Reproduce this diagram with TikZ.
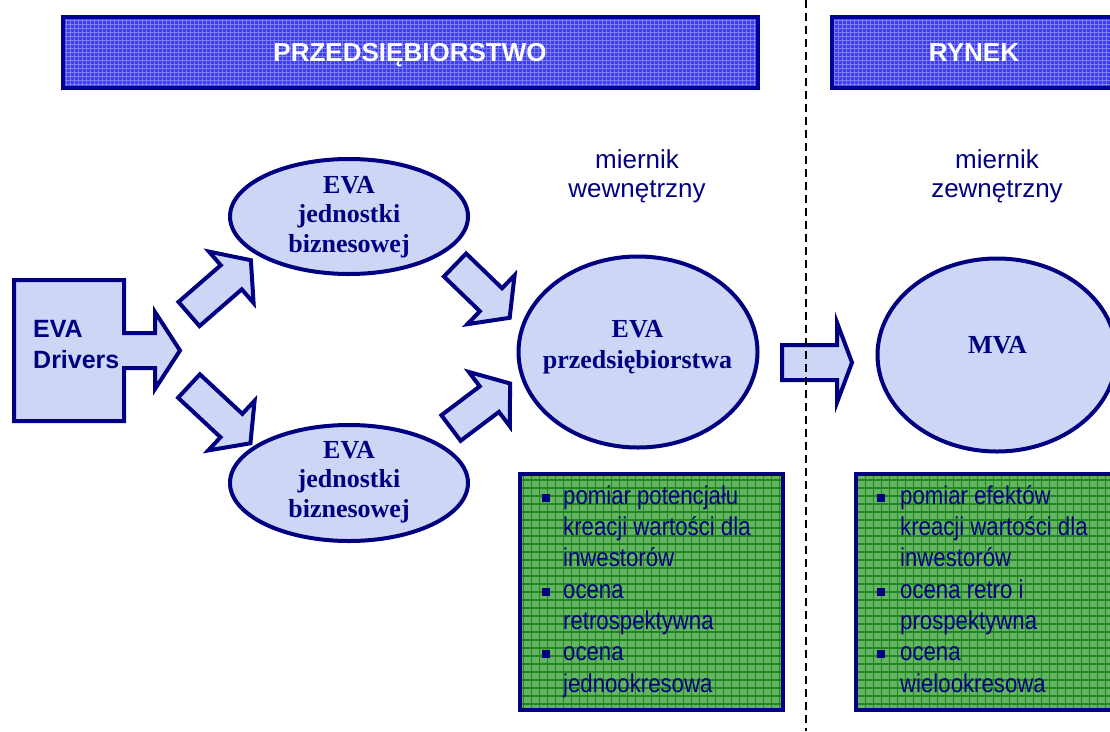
\documentclass[tikz,border=0pt]{standalone}
\usepackage{fontspec}
\setmainfont{Liberation Serif}
\newfontfamily\sansf{Liberation Sans}
\newfontfamily\sansnarrow[FakeStretch=0.86]{Liberation Sans}
\usetikzlibrary{shapes.geometric}

\definecolor{navy}{RGB}{0,0,128}
\definecolor{barblue}{RGB}{60,60,250}
\definecolor{bargrid}{RGB}{125,125,255}
\definecolor{barrim}{RGB}{0,0,150}
\definecolor{paleblue}{RGB}{206,214,245}
\definecolor{boxgreen}{RGB}{100,180,100}
\definecolor{gridgreen}{RGB}{30,135,30}

\newcommand\sqbul{\rule[2.5pt]{8pt}{8pt}}

\tikzset{
  outline/.style={draw=navy, line width=4pt, fill=paleblue, line join=miter},
  bubble/.style={ellipse, outline, inner sep=0pt},
  bubbletext/.style={text=navy, font=\bfseries\fontsize{26}{29.5}\selectfont,
    align=center, inner sep=0pt, anchor=base},
  titlebar/.style={draw=barrim, line width=4pt, fill=barblue, inner sep=0pt,
    anchor=north west,
    path picture={\draw[bargrid, line width=0.7pt, step=4pt]
      (path picture bounding box.south west) grid (path picture bounding box.north east);}},
  titletext/.style={text=white, font=\sansf\bfseries\fontsize{26}{30}\selectfont,
    inner sep=0pt, anchor=base},
  greenbox/.style={draw=navy, line width=4pt, fill=boxgreen, inner sep=0pt,
    anchor=north west,
    path picture={\draw[gridgreen, line width=1.4pt, step=8pt]
      (path picture bounding box.south west) grid (path picture bounding box.north east);}},
  listtext/.style={text=navy, font=\sansnarrow\fontsize{25.8}{31.3}\selectfont,
    inner sep=0pt, anchor=north west},
  measuretext/.style={text=navy, font=\sansf\fontsize{26}{29}\selectfont,
    align=center, inner sep=0pt, anchor=base},
  divider/.style={black, line width=2pt, dash pattern=on 8pt off 5pt},
  pics/blockarrow/.style n args={4}{code={
    \path[outline] (0,-#2) -- ({#1-#4},-#2) -- ({#1-#4},-#3) -- (#1,0)
      -- ({#1-#4},#3) -- ({#1-#4},#2) -- (0,#2) -- cycle;}}
}

\begin{document}
\begin{tikzpicture}[x=1pt,y=-1pt]
\useasboundingbox (0,0) rectangle (1110,731);
\clip (0,0) rectangle (1110,731);

% section headers
\node[titlebar, minimum width=695pt, minimum height=71pt] (firmbar) at (61,15) {};
\node[titlebar, minimum width=300pt, minimum height=71pt] (marketbar) at (830,15) {};
\node[titletext] (firmtitle) at (410,61) {PRZEDSIĘBIORSTWO};
\node[titletext] (markettitle) at (974,61) {RYNEK};

% measure captions (anchored on the last baseline)
\node[measuretext] (internal) at (637,197) {miernik\\wewnętrzny};
\node[measuretext] (external) at (997,197) {miernik\\zewnętrzny};

% EVA drivers block with its outgoing arrow
\path[outline] (14,280) -- (124,280) -- (124,333) -- (155,333) -- (155,312)
  -- (180,350.5) -- (155,389) -- (155,368) -- (124,368) -- (124,421)
  -- (14,421) -- cycle;
\node[text=navy, font=\sansf\bfseries\fontsize{25}{31}\selectfont, align=left,
  inner sep=0pt, anchor=base west] (drivers) at (33,368) {EVA\\Drivers};

% business-unit bubbles
\node[bubble, minimum width=238pt, minimum height=115pt] (unitA) at (349,216.5) {};
\node[bubble, minimum width=238pt, minimum height=116pt] (unitB) at (349,483) {};
\node[bubbletext] (unitAtext) at (349,252) {EVA\\jednostki\\biznesowej};
\node[bubbletext] (unitBtext) at (349,517) {EVA\\jednostki\\biznesowej};

% company and market bubbles
\node[bubble, minimum width=239pt, minimum height=191pt] (company) at (638,352) {};
\node[bubble, minimum width=239pt, minimum height=193pt] (market) at (997,355) {};
\node[bubbletext, font=\bfseries\fontsize{26}{31}\selectfont] (companytext) at (637.5,368) {EVA\\przedsiębiorstwa};
\node[bubbletext] (markettext) at (997.5,353) {MVA};

% block arrows
\pic[rotate=41] at (189,314) {blockarrow={82}{16}{34}{26}};
\pic[rotate=-43] at (189,386) {blockarrow={84}{16}{34}{26}};
\pic[rotate=-44] at (455,265) {blockarrow={76}{16}{34}{26}};
\pic[rotate=37] at (451,428) {blockarrow={74}{16}{34}{26}};
\pic at (782,362.5) {blockarrow={70}{17.5}{40}{15}};

% boundary between company and market
\coordinate (divtop) at (806,0);
\coordinate (divbot) at (806,731);
\draw[divider] (divtop) -- (divbot);

% characteristics boxes
\node[greenbox, minimum width=263pt, minimum height=236pt] (firmbox) at (518,472) {};
\node[greenbox, minimum width=275pt, minimum height=236pt] (marketbox) at (854,472) {};
\node[listtext] (firmlist) at (542,482.1) {%
  \begin{tabular}{@{}l@{\hspace{13pt}}l@{}}
  \sqbul & pomiar potencjału\\
         & kreacji wartości dla\\
         & inwestorów\\
  \sqbul & ocena\\
         & retrospektywna\\
  \sqbul & ocena\\
         & jednookresowa
  \end{tabular}};
\node[listtext] (marketlist) at (877,482.1) {%
  \begin{tabular}{@{}l@{\hspace{15pt}}l@{}}
  \sqbul & pomiar efektów\\
         & kreacji wartości dla\\
         & inwestorów\\
  \sqbul & ocena retro i\\
         & prospektywna\\
  \sqbul & ocena\\
         & wielookresowa
  \end{tabular}};
\end{tikzpicture}
\end{document}
